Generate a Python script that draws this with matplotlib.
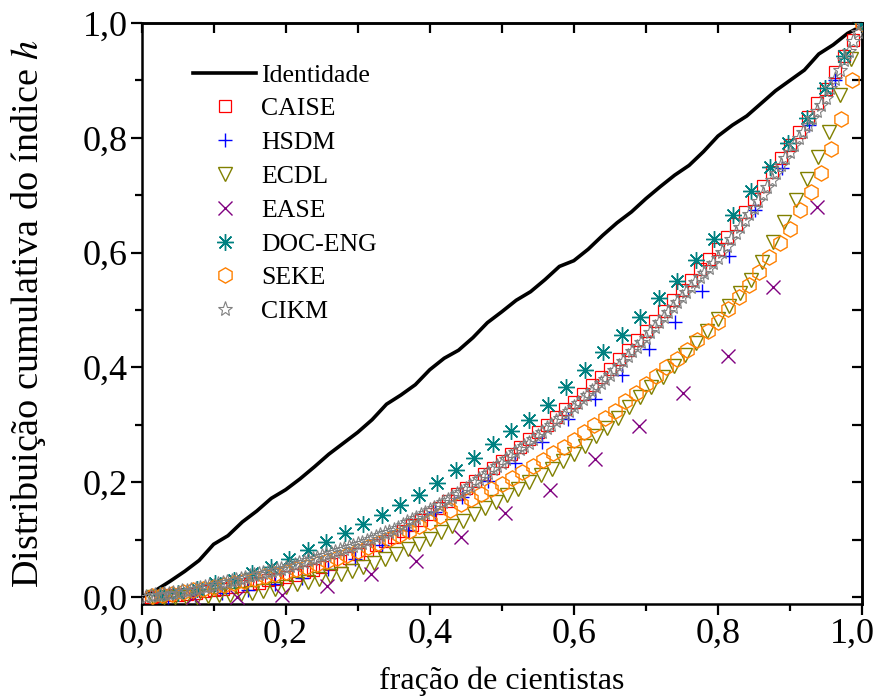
import numpy as np
import matplotlib
matplotlib.use("Agg")
import matplotlib.pyplot as plt
from matplotlib.ticker import FixedLocator, FixedFormatter, MultipleLocator
from matplotlib.transforms import ScaledTranslation

plt.rcParams['font.family'] = ['Liberation Serif', 'DejaVu Serif']
plt.rcParams['mathtext.fontset'] = 'stix'

# ---------------- data ----------------
identidade_y = [0.000, 0.012, 0.028, 0.045, 0.064, 0.092, 0.107, 0.131, 0.150, 0.172,
                0.187, 0.206, 0.227, 0.249, 0.268, 0.287, 0.309, 0.336, 0.352, 0.370,
                0.396, 0.416, 0.430, 0.452, 0.478, 0.497, 0.517, 0.532, 0.553, 0.576,
                0.586, 0.606, 0.630, 0.652, 0.671, 0.694, 0.715, 0.735, 0.752, 0.776,
                0.803, 0.822, 0.838, 0.860, 0.882, 0.900, 0.918, 0.946, 0.962, 0.982,
                0.995]

caise_y = [0.001, 0.002, 0.003, 0.004, 0.006, 0.008, 0.010, 0.012,
           0.0145, 0.017, 0.0195, 0.022, 0.025, 0.029, 0.032, 0.035,
           0.039, 0.044, 0.048, 0.052, 0.058, 0.063, 0.069, 0.075,
           0.082, 0.090, 0.097, 0.105, 0.115, 0.125, 0.135, 0.145,
           0.156, 0.168, 0.179, 0.190, 0.202, 0.214, 0.225, 0.237,
           0.250, 0.262, 0.275, 0.287, 0.300, 0.314, 0.327, 0.340,
           0.354, 0.369, 0.383, 0.398, 0.414, 0.430, 0.447, 0.463,
           0.481, 0.499, 0.517, 0.535, 0.553, 0.571, 0.589, 0.607,
           0.628, 0.650, 0.671, 0.693, 0.716, 0.740, 0.764, 0.787,
           0.811, 0.836, 0.860, 0.885, 0.914, 0.943, 0.971, 1.000]

hsdm_y = [0.001, 0.003, 0.007, 0.013, 0.022, 0.034, 0.049, 0.067, 0.090,
          0.117, 0.148, 0.175, 0.203, 0.234, 0.270, 0.310, 0.345, 0.387,
          0.433, 0.479, 0.533, 0.595, 0.675, 0.748, 0.822, 0.900, 1.000]

ecdl_y = [0.000, 0.000, 0.000, 0.000, 0.001, 0.002, 0.003, 0.004, 0.006, 0.008,
          0.011, 0.014, 0.017, 0.022, 0.026, 0.031, 0.036, 0.041, 0.046, 0.053,
          0.060, 0.067, 0.075, 0.084, 0.093, 0.102, 0.113, 0.123, 0.133, 0.144,
          0.155, 0.166, 0.177, 0.189, 0.200, 0.212, 0.224, 0.237, 0.249, 0.264,
          0.280, 0.295, 0.312, 0.331, 0.348, 0.366, 0.384, 0.402, 0.421, 0.442,
          0.463, 0.484, 0.507, 0.530, 0.552, 0.584, 0.619, 0.654, 0.691, 0.729,
          0.767, 0.811, 0.874, 0.937, 1.000]

ease_x = [0.071, 0.133, 0.195, 0.257, 0.319, 0.381, 0.443, 0.505,
          0.567, 0.629, 0.690, 0.752, 0.814, 0.876, 0.938, 1.000]
ease_y = [0.000, 0.000, 0.004, 0.019, 0.040, 0.063, 0.104, 0.147,
          0.187, 0.240, 0.298, 0.356, 0.420, 0.540, 0.680, 1.000]

doceng_y = [0.003, 0.008, 0.015, 0.025, 0.030, 0.042, 0.052, 0.067, 0.082, 0.096,
            0.111, 0.127, 0.143, 0.160, 0.178, 0.199, 0.221, 0.243, 0.266, 0.289,
            0.309, 0.334, 0.366, 0.396, 0.427, 0.457, 0.488, 0.521, 0.551, 0.587,
            0.624, 0.666, 0.707, 0.750, 0.791, 0.835, 0.886, 0.942, 1.000]

seke_y = [0.002, 0.004, 0.006, 0.009, 0.012, 0.015, 0.018, 0.021, 0.025, 0.028,
          0.032, 0.036, 0.040, 0.044, 0.049, 0.053, 0.058, 0.063, 0.068, 0.074,
          0.080, 0.087, 0.094, 0.101, 0.108, 0.116, 0.123, 0.131, 0.141, 0.152,
          0.162, 0.171, 0.180, 0.188, 0.197, 0.207, 0.218, 0.228, 0.239, 0.251,
          0.262, 0.274, 0.287, 0.299, 0.312, 0.324, 0.341, 0.356, 0.372, 0.386,
          0.400, 0.415, 0.430, 0.447, 0.463, 0.480, 0.501, 0.523, 0.544, 0.567,
          0.592, 0.616, 0.641, 0.674, 0.706, 0.739, 0.780, 0.832, 0.900, 1.000]

cikm_y = [0.001, 0.002, 0.003, 0.004, 0.005, 0.006, 0.007, 0.008,
          0.010, 0.011, 0.013, 0.014, 0.016, 0.017, 0.019, 0.020,
          0.022, 0.024, 0.026, 0.028, 0.030, 0.032, 0.034, 0.036,
          0.038, 0.040, 0.042, 0.044, 0.045, 0.047, 0.049, 0.051,
          0.054, 0.056, 0.059, 0.061, 0.064, 0.066, 0.069, 0.071,
          0.074, 0.076, 0.079, 0.082, 0.084, 0.087, 0.089, 0.092,
          0.095, 0.098, 0.101, 0.105, 0.108, 0.111, 0.114, 0.117,
          0.121, 0.126, 0.130, 0.134, 0.138, 0.143, 0.147, 0.151,
          0.156, 0.160, 0.165, 0.170, 0.174, 0.179, 0.183, 0.188,
          0.194, 0.200, 0.205, 0.211, 0.217, 0.223, 0.228, 0.234,
          0.240, 0.246, 0.252, 0.258, 0.263, 0.269, 0.275, 0.281,
          0.287, 0.294, 0.300, 0.306, 0.312, 0.319, 0.325, 0.331,
          0.338, 0.345, 0.352, 0.359, 0.366, 0.373, 0.380, 0.387,
          0.395, 0.403, 0.411, 0.420, 0.428, 0.436, 0.444, 0.452,
          0.461, 0.470, 0.479, 0.488, 0.496, 0.505, 0.514, 0.523,
          0.531, 0.540, 0.548, 0.557, 0.565, 0.573, 0.582, 0.590,
          0.601, 0.612, 0.623, 0.634, 0.645, 0.656, 0.667, 0.678,
          0.690, 0.703, 0.715, 0.727, 0.739, 0.752, 0.764, 0.776,
          0.788, 0.800, 0.811, 0.823, 0.835, 0.847, 0.858, 0.870,
          0.886, 0.903, 0.919, 0.935, 0.951, 0.968, 0.984, 1.000]

tick_values = [0.0, 0.2, 0.4, 0.6, 0.8, 1.0]
tick_labels = ['0,0', '0,2', '0,4', '0,6', '0,8', '1,0']


def frac(values, start=1):
    n = len(values) - (1 - start)
    return np.arange(start, start + len(values)) / n

# ---------------- figure ----------------
fig = plt.figure(figsize=(8.78, 6.99), dpi=100)
ax = fig.add_axes([0.1612, 0.1359, 0.8206, 0.8312])

ax.plot(frac(identidade_y, start=0), identidade_y, color='black', lw=2.6,
        label='Identidade', zorder=2)
ax.plot(frac(caise_y), caise_y, ls='none', marker='s', ms=8, mfc='none',
        mec='#ff0000', mew=0.9, label='CAISE', zorder=3)
ax.plot(frac(hsdm_y), hsdm_y, ls='none', marker='+', ms=10, mec='#0000ff',
        mew=1.0, label='HSDM', zorder=3)
ax.plot(frac(ecdl_y), ecdl_y, ls='none', marker='v', ms=10, mfc='none',
        mec='#808000', mew=1.0, label='ECDL', zorder=3)
ax.plot(ease_x, ease_y, ls='none', marker='x', ms=10, mec='#800080',
        mew=1.0, label='EASE', zorder=3)
ax.plot(frac(doceng_y), doceng_y, ls='none', marker=(8, 2, 0), ms=12,
        mec='#008080', mew=1.0, label='DOC-ENG', zorder=3)
ax.plot(frac(seke_y), seke_y, ls='none', marker='h', ms=11, mfc='none',
        mec='#ff8000', mew=1.0, label='SEKE', zorder=3)
ax.plot(frac(cikm_y), cikm_y, ls='none', marker='*', ms=11, mfc='none',
        mec='#808080', mew=0.8, label='CIKM', zorder=4)

ax.set_xlim(0, 1)
ax.set_ylim(-0.012, 1.0)

for sp in ax.spines.values():
    sp.set_linewidth(1.8)

ax.xaxis.set_major_locator(FixedLocator(tick_values))
ax.xaxis.set_major_formatter(FixedFormatter(tick_labels))
ax.yaxis.set_major_locator(FixedLocator(tick_values))
ax.yaxis.set_major_formatter(FixedFormatter(tick_labels))
ax.xaxis.set_minor_locator(MultipleLocator(0.1))
ax.yaxis.set_minor_locator(MultipleLocator(0.1))
ax.tick_params(which='major', direction='out', length=8, width=1.6,
               labelsize=26, pad=2)
ax.tick_params(which='minor', direction='out', length=5, width=1.6)
ax.tick_params(top=False, right=False, which='both')

secx = ax.secondary_xaxis('top')
secx.xaxis.set_major_locator(MultipleLocator(0.1))
secx.tick_params(which='both', direction='in', length=7, width=1.6,
                 labeltop=False)
secy = ax.secondary_yaxis('right')
secy.yaxis.set_major_locator(MultipleLocator(0.1))
secy.tick_params(which='both', direction='in', length=7, width=1.6,
                 labelright=False)
for sec in (secx, secy):
    sec.minorticks_off()
    for sp in sec.spines.values():
        sp.set_linewidth(1.8)

ax.set_xlabel('fração de cientistas', fontsize=23)
ax.xaxis.set_label_coords(0.5, -0.108)
ax.set_ylabel('Distribuição cumulativa do índice $h$', fontsize=27.5)
ax.yaxis.set_label_coords(-0.13, 0.5)

leg = ax.legend(loc='upper left', bbox_to_anchor=(0.072, 0.93), frameon=False,
                fontsize=18.5, handlelength=2.45, handletextpad=0.2,
                labelspacing=0.42, borderaxespad=0, borderpad=0,
                numpoints=1)

# keep the last x tick label inside the figure, as in the reference
fig.canvas.draw()
last = ax.xaxis.get_major_ticks()[-1].label1
last.set_transform(last.get_transform() +
                   ScaledTranslation(-7 / 72, 0, fig.dpi_scale_trans))

fig.savefig('out.png', dpi=100)
